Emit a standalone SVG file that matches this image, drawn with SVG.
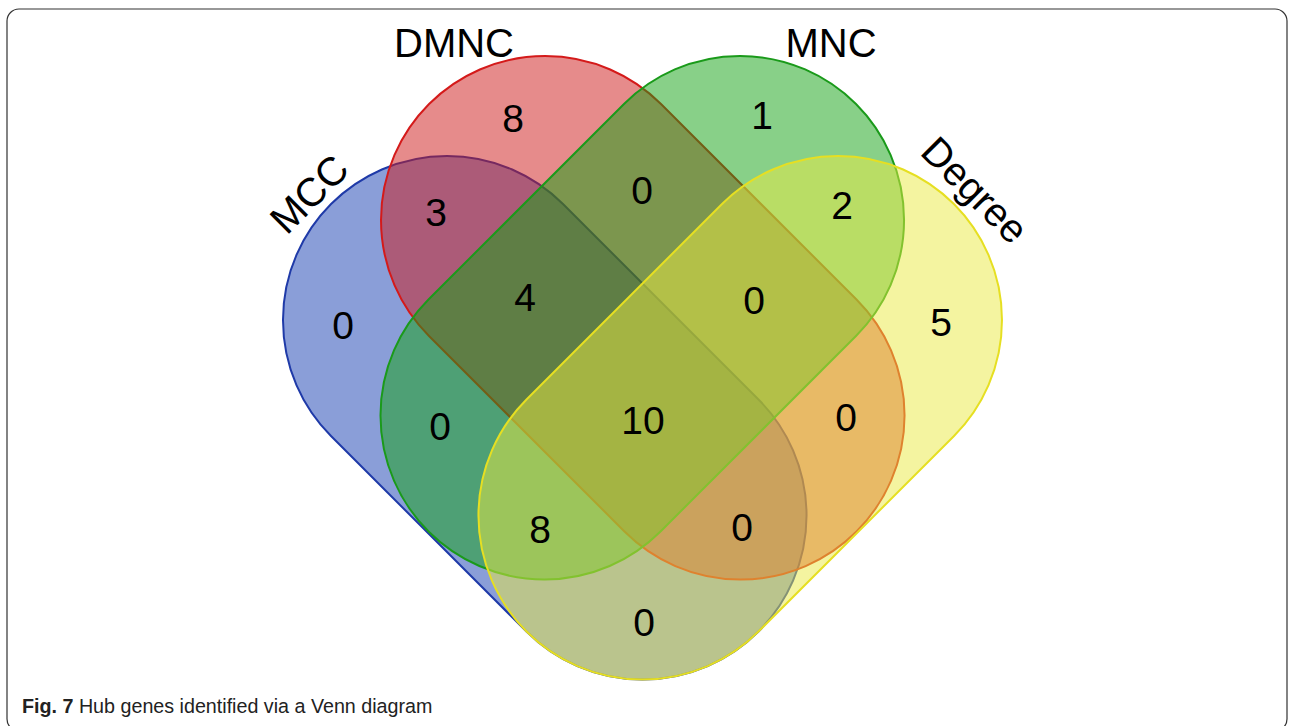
<svg xmlns="http://www.w3.org/2000/svg" width="1289" height="726" viewBox="0 0 1289 726">
  <style>
    .set { stroke-width: 2; }
    .num { font-family: "Liberation Sans", Arial, sans-serif; font-size: 39px; fill: #000; text-anchor: middle; }
    .lbl { font-family: "Liberation Sans", Arial, sans-serif; font-size: 40px; fill: #000; text-anchor: middle; }
    .cap { font-family: "Liberation Sans", Arial, sans-serif; font-size: 19.7px; fill: #222; }
  </style>
  <rect x="0" y="0" width="1289" height="726" fill="#fff"/>
  <rect x="7" y="9" width="1280" height="722" rx="12" ry="12" fill="none" stroke="#333" stroke-width="1.2"/>

  <g id="MCC">
    <path class="set" d="M 563 204 L 758.5 399.5 A 164 164 0 0 1 526.5 631.5 L 331 436 A 164 164 0 0 1 563 204 Z" fill="rgba(21,61,177,0.5)" stroke="#1f3aa8"/>
  </g>
  <g id="DMNC">
    <path class="set" d="M 661 104 L 856.5 299.5 A 164 164 0 0 1 624.5 531.5 L 429 336 A 164 164 0 0 1 661 104 Z" fill="rgba(205,23,23,0.5)" stroke="#d41a1a"/>
  </g>
  <g id="MNC">
    <path class="set" d="M 624 104 L 428.5 299.5 A 164 164 0 0 0 660.5 531.5 L 856 336 A 164 164 0 0 0 624 104 Z" fill="rgba(17,161,17,0.5)" stroke="#1a9a1a"/>
  </g>
  <g id="Degree">
    <path class="set" d="M 722 204 L 526.5 399.5 A 164 164 0 0 0 758.5 631.5 L 954 436 A 164 164 0 0 0 722 204 Z" fill="rgba(233,233,65,0.5)" stroke="#e6df22"/>
  </g>

  <g id="set-labels">
    <text class="lbl" x="454" y="57">DMNC</text>
    <text class="lbl" x="831" y="57">MNC</text>
    <text class="lbl" transform="translate(309,194) rotate(-45)" x="0" y="14">MCC</text>
    <text class="lbl" transform="translate(975,190) rotate(45)" x="0" y="14">Degree</text>
  </g>

  <g id="counts">
    <text class="num" x="513" y="132">8</text>
    <text class="num" x="762" y="129">1</text>
    <text class="num" x="436" y="226">3</text>
    <text class="num" x="642" y="204">0</text>
    <text class="num" x="842" y="219">2</text>
    <text class="num" x="343" y="339">0</text>
    <text class="num" x="525" y="311">4</text>
    <text class="num" x="754" y="314">0</text>
    <text class="num" x="941" y="336">5</text>
    <text class="num" x="440" y="440">0</text>
    <text class="num" x="643" y="434">10</text>
    <text class="num" x="846" y="431">0</text>
    <text class="num" x="540" y="543">8</text>
    <text class="num" x="742" y="541">0</text>
    <text class="num" x="644" y="636">0</text>
  </g>

  <g id="caption">
    <text class="cap" x="22" y="713"><tspan font-weight="bold">Fig. 7</tspan> Hub genes identified via a Venn diagram</text>
  </g>
</svg>
